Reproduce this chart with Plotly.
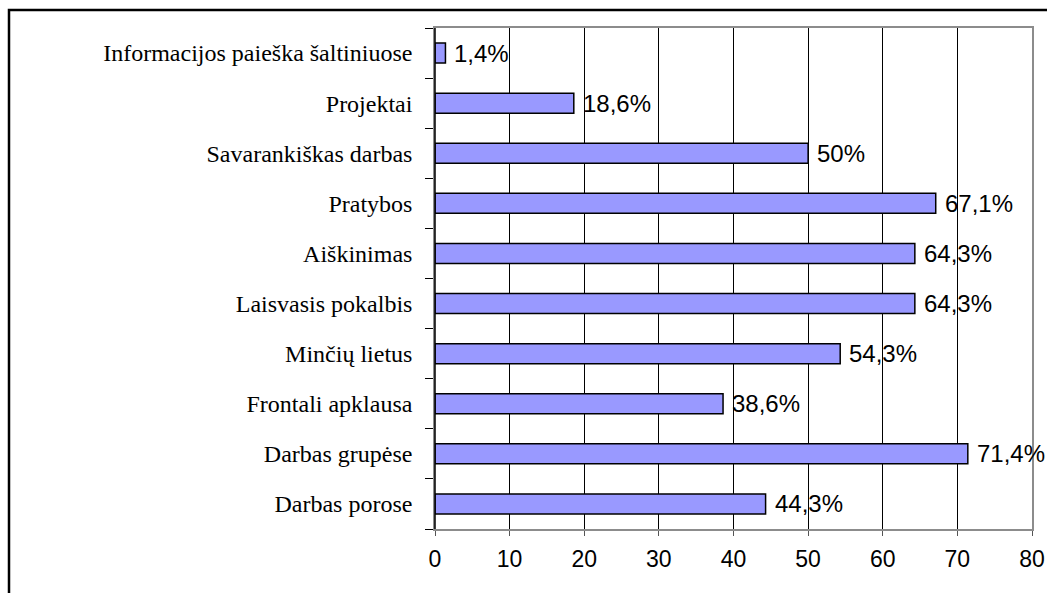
import plotly.graph_objects as go

categories = [
    "Darbas porose",
    "Darbas grupėse",
    "Frontali apklausa",
    "Minčių lietus",
    "Laisvasis pokalbis",
    "Aiškinimas",
    "Pratybos",
    "Savarankiškas darbas",
    "Projektai",
    "Informacijos paieška šaltiniuose",
]
values = [44.3, 71.4, 38.6, 54.3, 64.3, 64.3, 67.1, 50, 18.6, 1.4]
value_labels = ["44,3%", "71,4%", "38,6%", "54,3%", "64,3%", "64,3%", "67,1%", "50%", "18,6%", "1,4%"]
x_ticks = [0, 10, 20, 30, 40, 50, 60, 70, 80]

W, H = 1047, 593
L, R, T, B = 435, 15, 28, 64
pw, ph = W - L - R, H - T - B

fig = go.Figure(
    go.Bar(
        y=categories,
        x=values,
        orientation="h",
        marker=dict(color="#9999FF", line=dict(color="black", width=1.5)),
        width=0.4,
        hoverinfo="x+y",
    )
)

for cat, val, lab in zip(categories, values, value_labels):
    fig.add_annotation(
        x=val, y=cat, xref="x", yref="y",
        text=lab, showarrow=False,
        xanchor="left", yanchor="middle", xshift=7,
        font=dict(family="Liberation Sans, Arial", size=24, color="black"),
    )

def px_to_paper_x(p):
    return (p - L) / pw

def px_to_paper_y(p):
    return (H - B - p) / ph

fig.update_layout(
    width=W,
    height=H,
    autosize=False,
    margin=dict(l=L, r=R, t=T, b=B, pad=0),
    paper_bgcolor="white",
    plot_bgcolor="white",
    showlegend=False,
    xaxis=dict(
        range=[0, 80],
        automargin=False,
        tickvals=x_ticks,
        ticktext=[str(v) for v in x_ticks],
        showgrid=True,
        gridcolor="black",
        gridwidth=1,
        zeroline=False,
        showline=True,
        linecolor="#8c8c8c",
        linewidth=1.5,
        mirror=True,
        ticks="outside",
        ticklen=5,
        tickcolor="#555555",
        tickfont=dict(family="Liberation Sans, Arial", size=23, color="black"),
        ticklabelstandoff=4,
    ),
    yaxis=dict(
        categoryorder="array",
        categoryarray=categories,
        automargin=False,
        showgrid=False,
        zeroline=False,
        showline=True,
        linecolor="#8c8c8c",
        linewidth=1.5,
        mirror=True,
        ticks="outside",
        ticklen=8,
        tickcolor="black",
        tickson="boundaries",
        tickfont=dict(family="Liberation Serif, Times New Roman", size=24, color="black"),
        ticklabelstandoff=16,
    ),
    shapes=[
        dict(type="line", xref="paper", yref="paper", x0=0, x1=0, y0=0, y1=1,
             line=dict(color="black", width=1.5), layer="above"),
        dict(type="path", xref="paper", yref="paper",
             path=f"M {px_to_paper_x(9)} {px_to_paper_y(600)} L {px_to_paper_x(9)} {px_to_paper_y(10)} L {px_to_paper_x(1060)} {px_to_paper_y(10)}",
             line=dict(color="black", width=2.5), layer="above"),
    ],
)

fig.write_html(
    "out.html",
    config={"displayModeBar": False},
    post_script="document.body.style.margin='0';document.body.style.overflow='hidden';",
)
